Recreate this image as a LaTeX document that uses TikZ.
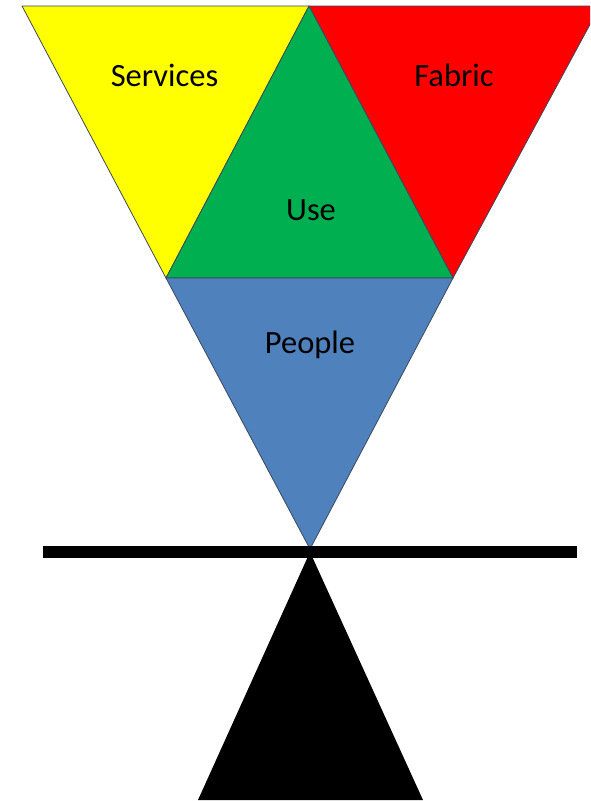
\documentclass[tikz,border=0pt]{standalone}
\usepackage{fontspec}
\setmainfont{Carlito}
\definecolor{cyel}{RGB}{255,255,0}
\definecolor{cred}{RGB}{255,0,0}
\definecolor{cgreen}{RGB}{0,176,80}
\definecolor{cblue}{RGB}{79,129,189}
\definecolor{cedge}{RGB}{60,72,92}
\begin{document}
\begin{tikzpicture}[x=1pt,y=-1pt,
  tri/.style={draw=cedge,line width=0.8pt,line join=round},
  lbl/.style={font=\fontsize{32.5}{38}\selectfont,text=black,inner sep=0pt}]
\useasboundingbox (0,0) rectangle (590,801);
\begin{scope}
\clip (0,0) rectangle (590,801);
\fill[white] (0,0) rectangle (590,801);
\coordinate (A) at (22,6);
\coordinate (B) at (309,6);
\coordinate (C) at (600,6);
\coordinate (L) at (166,278);
\coordinate (R) at (453,278);
\coordinate (P) at (310,549);
\filldraw[tri,fill=cyel] (A) -- (B) -- (L) -- cycle;
\filldraw[tri,fill=cred] (B) -- (C) -- (R) -- cycle;
\filldraw[tri,fill=cgreen] (B) -- (R) -- (L) -- cycle;
\filldraw[tri,fill=cblue] (L) -- (R) -- (P) -- cycle;
\coordinate (T) at (310,552);
\fill[black] (T) -- (423,800) -- (198,800) -- cycle;
\fill[black] (43,546) rectangle (577,558);
\end{scope}
\node[lbl] (services) at (164.5,75) {Services};
\node[lbl] (fabric) at (454,75) {Fabric};
\node[lbl] (use) at (311,210) {Use};
\node[lbl] (people) at (310,345) {People};
\end{tikzpicture}
\end{document}
